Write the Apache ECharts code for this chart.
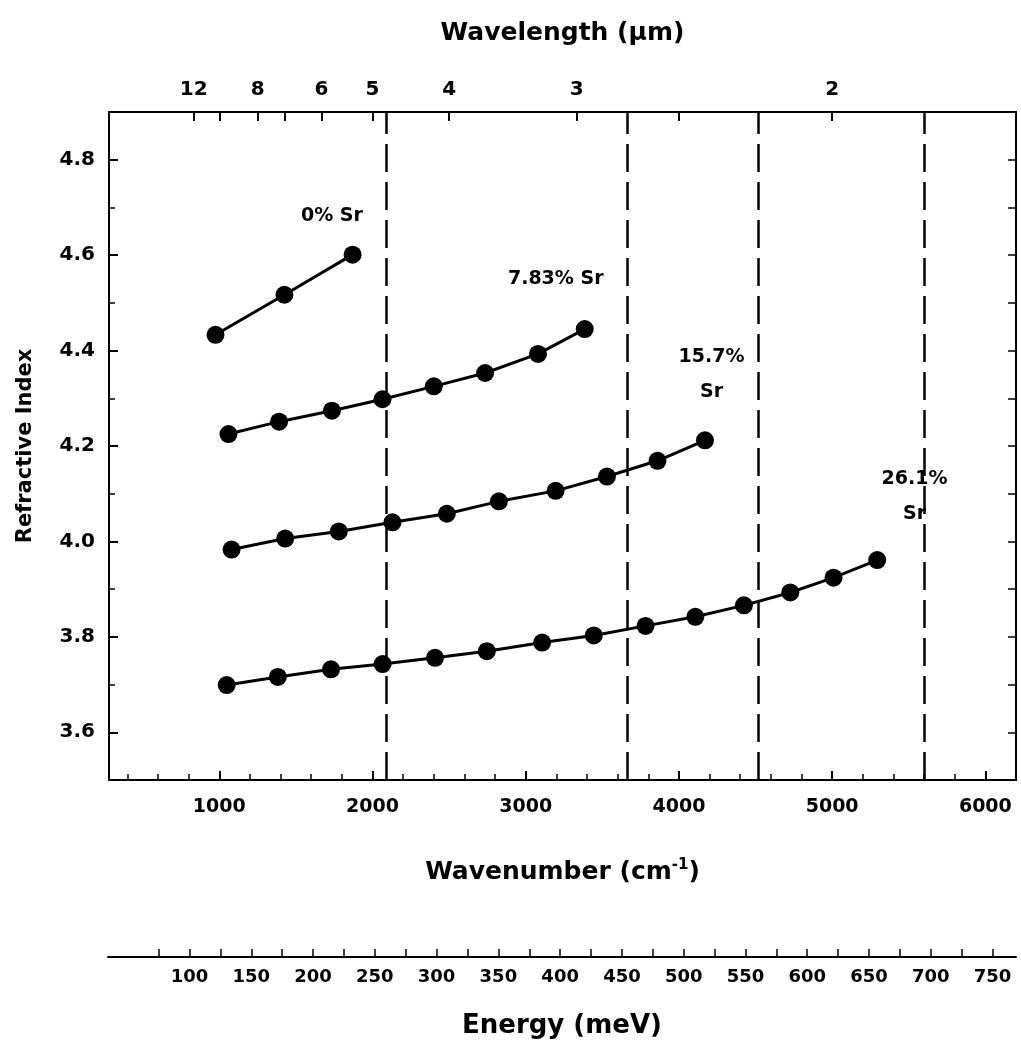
<!DOCTYPE html>
<html>
<head>
<meta charset="utf-8">
<script src="https://cdn.jsdelivr.net/npm/echarts@6/dist/echarts.min.js"></script>
<style>
  html, body { margin: 0; padding: 0; background: #fff; }
  #chart { width: 1021px; height: 1054px; }
</style>
</head>
<body>
<div id="chart"></div>
<script>
// Refractive index vs wavenumber for four Sr contents
const wavenumber0 = [975, 1425, 1870];
const index0 = [4.433, 4.517, 4.601];

const wavenumber783 = [1060, 1390, 1735, 2065, 2400, 2735, 3080, 3385];
const index783 = [4.225, 4.251, 4.274, 4.298, 4.325, 4.353, 4.393, 4.445];

const wavenumber157 = [1080, 1430, 1780, 2130, 2485, 2825, 3195, 3530, 3860, 4170];
const index157 = [3.983, 4.006, 4.021, 4.040, 4.058, 4.084, 4.106, 4.136, 4.169, 4.212];

const wavenumber261 = [1048, 1382, 1729, 2066, 2408, 2746, 3107, 3444, 3782, 4107, 4424, 4727, 5009, 5294];
const index261 = [3.699, 3.716, 3.732, 3.743, 3.756, 3.770, 3.788, 3.803, 3.823, 3.842, 3.866, 3.893, 3.924, 3.961];

// vertical dashed reference lines (cm^-1)
const edgeLines = [2090, 3660, 4520, 5600];

// tick values
const indexLabels = [3.6, 3.8, 4.0, 4.2, 4.4, 4.6, 4.8];
const indexMinor = [3.7, 3.9, 4.1, 4.3, 4.5, 4.7];
const indexAll = [3.6, 3.7, 3.8, 3.9, 4.0, 4.1, 4.2, 4.3, 4.4, 4.5, 4.6, 4.7, 4.8];
const wavenumberLabels = [1000, 2000, 3000, 4000, 5000, 6000];
const wavenumberMinor = [400, 600, 800, 1200, 1400, 1600, 1800, 2200, 2400, 2600, 2800,
  3200, 3400, 3600, 3800, 4200, 4400, 4600, 4800, 5200, 5400, 5600, 5800, 6000];
const wavelengthTicks = [12, 10, 8, 7, 6, 5, 4, 3, 2.5, 2];
const wavelengthLabels = [12, 8, 6, 5, 4, 3, 2];
const energyTicks = [75, 100, 125, 150, 175, 200, 225, 250, 275, 300, 325, 350, 375, 400,
  425, 450, 475, 500, 525, 550, 575, 600, 625, 650, 675, 700, 725, 750];
const energyLabels = [100, 150, 200, 250, 300, 350, 400, 450, 500, 550, 600, 650, 700, 750];

// curve annotations: [wavenumber, index, text]
const curveNotes = [
  [1735, 4.681, '0% Sr'],
  [3196, 4.549, '7.83% Sr'],
  [4213, 4.349, '15.7%\nSr'],
  [5538, 4.094, '26.1%\nSr']
];

const FONT = '"DejaVu Sans", "Liberation Sans", Arial, sans-serif';
const INK = '#000';

const zip = (xs, ys) => xs.map((x, i) => [x, ys[i]]);
const toWn = um => 10000 / um;

function curve(name, xs, ys, extra) {
  return Object.assign({
    name: name,
    type: 'line',
    xAxisIndex: 0,
    yAxisIndex: 0,
    data: zip(xs, ys),
    symbol: 'circle',
    symbolSize: 18,
    lineStyle: { color: INK, width: 3 },
    itemStyle: { color: INK, opacity: 1 },
    z: 5,
    animation: false
  }, extra || {});
}

const chart = echarts.init(document.getElementById('chart'), null, { renderer: 'canvas' });

const tickLabel = { color: INK, fontFamily: FONT, fontWeight: 'bold', fontSize: 19 };
const titleText = { color: INK, fontFamily: FONT, fontWeight: 'bold', fontSize: 25 };

chart.setOption({
  backgroundColor: '#fff',
  animation: false,
  grid: [
    { left: 109, right: 5, top: 112, bottom: 274 },
    { left: 108, right: 5, top: 937, height: 20 }
  ],
  xAxis: [
    {
      type: 'value', gridIndex: 0, position: 'bottom', min: 280, max: 6200,
      axisLine: { show: true, lineStyle: { color: INK, width: 2 } },
      axisTick: { show: true, inside: true, length: 9, customValues: wavenumberLabels, lineStyle: { color: INK, width: 2 } },
      axisLabel: Object.assign({ customValues: wavenumberLabels, margin: 18, formatter: v => String(v) }, tickLabel),
      splitLine: { show: false },
      name: 'Wavenumber (cm{sup|-1})',
      nameLocation: 'middle',
      nameGap: 78,
      nameTextStyle: Object.assign({
        rich: { sup: { fontFamily: FONT, fontWeight: 'bold', fontSize: 15, color: INK, verticalAlign: 'top', padding: [0, 0, 14, 0] } }
      }, titleText)
    },
    {
      type: 'value', gridIndex: 0, position: 'bottom', min: 280, max: 6200,
      axisLine: { show: false },
      axisTick: { show: true, inside: true, length: 6, customValues: wavenumberMinor, lineStyle: { color: INK, width: 1.5 } },
      axisLabel: { show: false },
      splitLine: { show: false }
    },
    {
      type: 'value', gridIndex: 0, position: 'top', min: 280, max: 6200,
      axisLine: { show: true, lineStyle: { color: INK, width: 2 } },
      axisTick: { show: true, inside: true, length: 9, customValues: wavelengthTicks.map(toWn), lineStyle: { color: INK, width: 2 } },
      axisLabel: Object.assign({
        customValues: wavelengthLabels.map(toWn),
        margin: 12,
        formatter: v => String(Math.round(10000 / v * 10) / 10)
      }, tickLabel, { fontSize: 20 }),
      splitLine: { show: false },
      name: 'Wavelength (\u00b5m)',
      nameLocation: 'middle',
      nameGap: 66,
      nameTextStyle: titleText
    },
    {
      type: 'value', gridIndex: 1, position: 'bottom', min: 34, max: 769,
      axisLine: { show: true, lineStyle: { color: INK, width: 2 } },
      axisTick: { show: true, inside: true, length: 8, customValues: energyTicks, lineStyle: { color: INK, width: 1.5 } },
      axisLabel: Object.assign({ customValues: energyLabels, margin: 11, formatter: v => String(v) }, tickLabel, { fontSize: 18 }),
      splitLine: { show: false },
      name: 'Energy (meV)',
      nameLocation: 'middle',
      nameGap: 56,
      nameTextStyle: Object.assign({}, titleText, { fontSize: 26 })
    }
  ],
  yAxis: [
    {
      type: 'value', gridIndex: 0, position: 'left', min: 3.5, max: 4.9,
      axisLine: { show: true, lineStyle: { color: INK, width: 2 } },
      axisTick: { show: true, inside: true, length: 9, customValues: indexLabels, lineStyle: { color: INK, width: 2 } },
      axisLabel: Object.assign({ customValues: indexLabels, margin: 14, formatter: v => v.toFixed(1) }, tickLabel, { fontSize: 20 }),
      splitLine: { show: false },
      name: 'Refractive Index',
      nameLocation: 'middle',
      nameGap: 73,
      nameRotate: 90,
      nameTextStyle: Object.assign({}, titleText, { fontSize: 21 })
    },
    {
      type: 'value', gridIndex: 0, position: 'left', min: 3.5, max: 4.9,
      axisLine: { show: false },
      axisTick: { show: true, inside: true, length: 6, customValues: indexMinor, lineStyle: { color: INK, width: 1.5 } },
      axisLabel: { show: false },
      splitLine: { show: false }
    },
    {
      type: 'value', gridIndex: 0, position: 'right', min: 3.5, max: 4.9,
      axisLine: { show: true, lineStyle: { color: INK, width: 2 } },
      axisTick: { show: true, inside: true, length: 8, customValues: indexAll, lineStyle: { color: INK, width: 1.5 } },
      axisLabel: { show: false },
      splitLine: { show: false }
    },
    {
      type: 'value', gridIndex: 1, show: false, min: 0, max: 1
    }
  ],
  series: [
    curve('0% Sr', wavenumber0, index0, {
      markLine: {
        silent: true,
        symbol: 'none',
        label: { show: false },
        lineStyle: { color: INK, width: 2.5, type: [28, 10], opacity: 1 },
        data: edgeLines.map(x => ({ xAxis: x }))
      }
    }),
    curve('7.83% Sr', wavenumber783, index783),
    curve('15.7% Sr', wavenumber157, index157),
    curve('26.1% Sr', wavenumber261, index261),
    {
      type: 'scatter',
      xAxisIndex: 0,
      yAxisIndex: 0,
      symbolSize: 0,
      itemStyle: { opacity: 1 },
      data: curveNotes.map(n => ({ value: [n[0], n[1]], text: n[2] })),
      label: {
        show: true,
        position: 'inside',
        color: INK,
        fontFamily: FONT,
        fontWeight: 'bold',
        fontSize: 19,
        lineHeight: 35,
        align: 'center',
        formatter: p => p.data.text
      },
      z: 6
    },
    {
      type: 'scatter',
      xAxisIndex: 3,
      yAxisIndex: 3,
      data: [],
      silent: true
    }
  ]
});
</script>
</body>
</html>
